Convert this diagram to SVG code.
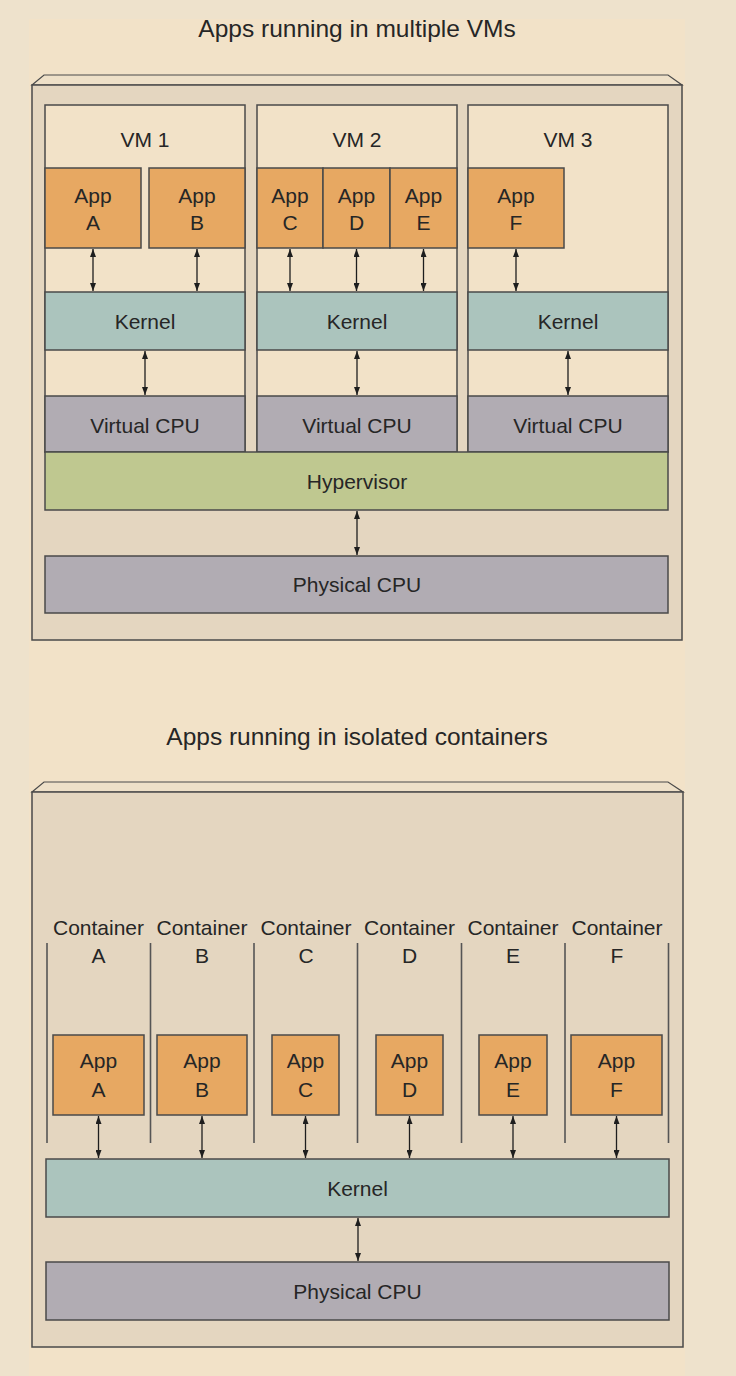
<svg xmlns="http://www.w3.org/2000/svg" width="736" height="1376" viewBox="0 0 736 1376">
<defs>
<marker id="ah" viewBox="0 0 8 6" refX="8" refY="3" markerWidth="8" markerHeight="6" markerUnits="userSpaceOnUse" orient="auto-start-reverse">
<path d="M0,0 L8,3 L0,6 z" fill="#1e1e1e"/>
</marker>
</defs>
<style>
text{font-family:"Liberation Sans",Arial,sans-serif;fill:#262626;text-anchor:middle}
.t{font-size:24.5px}
.l{font-size:21px}
.box{fill:#E4D6C0;stroke:#4a4a4a;stroke-width:1.5}
.bev{fill:#EEE0C8;stroke:#4a4a4a;stroke-width:1.2}
.vm{fill:#F2E2C8;stroke:#4a4a4a;stroke-width:1.5}
.app{fill:#E7A862;stroke:#4a4a4a;stroke-width:1.5}
.ker{fill:#ABC4BD;stroke:#4a4a4a;stroke-width:1.5}
.cpu{fill:#B1ACB3;stroke:#4a4a4a;stroke-width:1.5}
.hyp{fill:#BFC890;stroke:#4a4a4a;stroke-width:1.5}
.div{stroke:#555;stroke-width:1.6}
.ar{stroke:#1e1e1e;stroke-width:1.3;fill:none;marker-start:url(#ah);marker-end:url(#ah)}
</style>
<rect x="0" y="0" width="736" height="1376" fill="#EEE2CC"/>
<rect x="29" y="19" width="656" height="1357" fill="#F2E2C8"/>

<g id="vm-section">
<text class="t" x="357" y="37">Apps running in multiple VMs</text>
<g id="vm-host">
<polygon class="bev" points="32,85 44,75 668,75 682,85"/>
<rect class="box" x="32" y="85" width="650" height="555"/>
</g>
<g id="vm1">
<rect class="vm" x="45" y="105" width="200" height="347"/>
<text class="l" x="145" y="147">VM 1</text>
</g>
<g id="vm2">
<rect class="vm" x="257" y="105" width="200" height="347"/>
<text class="l" x="357" y="147">VM 2</text>
</g>
<g id="vm3">
<rect class="vm" x="468" y="105" width="200" height="347"/>
<text class="l" x="568" y="147">VM 3</text>
</g>
<g id="vm-app-a"><rect class="app" x="45" y="168" width="96" height="80"/><text class="l" x="93" y="203">App</text><text class="l" x="93" y="230">A</text></g>
<g id="vm-app-b"><rect class="app" x="149" y="168" width="96" height="80"/><text class="l" x="197" y="203">App</text><text class="l" x="197" y="230">B</text></g>
<g id="vm-app-c"><rect class="app" x="257" y="168" width="66" height="80"/><text class="l" x="290" y="203">App</text><text class="l" x="290" y="230">C</text></g>
<g id="vm-app-d"><rect class="app" x="323" y="168" width="67" height="80"/><text class="l" x="356.5" y="203">App</text><text class="l" x="356.5" y="230">D</text></g>
<g id="vm-app-e"><rect class="app" x="390" y="168" width="67" height="80"/><text class="l" x="423.5" y="203">App</text><text class="l" x="423.5" y="230">E</text></g>
<g id="vm-app-f"><rect class="app" x="468" y="168" width="96" height="80"/><text class="l" x="516" y="203">App</text><text class="l" x="516" y="230">F</text></g>
<g id="vm1-kernel"><rect class="ker" x="45" y="292" width="200" height="58"/><text class="l" x="145" y="328.5">Kernel</text></g>
<g id="vm2-kernel"><rect class="ker" x="257" y="292" width="200" height="58"/><text class="l" x="357" y="328.5">Kernel</text></g>
<g id="vm3-kernel"><rect class="ker" x="468" y="292" width="200" height="58"/><text class="l" x="568" y="328.5">Kernel</text></g>
<g id="vm1-vcpu"><rect class="cpu" x="45" y="396" width="200" height="56"/><text class="l" x="145" y="432.5">Virtual CPU</text></g>
<g id="vm2-vcpu"><rect class="cpu" x="257" y="396" width="200" height="56"/><text class="l" x="357" y="432.5">Virtual CPU</text></g>
<g id="vm3-vcpu"><rect class="cpu" x="468" y="396" width="200" height="56"/><text class="l" x="568" y="432.5">Virtual CPU</text></g>
<g id="hypervisor"><rect class="hyp" x="45" y="452" width="623" height="58"/><text class="l" x="357" y="488.5">Hypervisor</text></g>
<g id="vm-physical-cpu"><rect class="cpu" x="45" y="556" width="623" height="57"/><text class="l" x="357" y="592">Physical CPU</text></g>
</g>

<g id="container-section">
<text class="t" x="357" y="745">Apps running in isolated containers</text>
<g id="ct-host">
<polygon class="bev" points="32,792 44,782 668,782 683,792"/>
<rect class="box" x="32" y="792" width="651" height="555"/>
</g>
<g id="dividers">
<line class="div" x1="47" y1="943" x2="47" y2="1143"/>
<line class="div" x1="150.5" y1="943" x2="150.5" y2="1143"/>
<line class="div" x1="254" y1="943" x2="254" y2="1143"/>
<line class="div" x1="357.5" y1="943" x2="357.5" y2="1143"/>
<line class="div" x1="461.5" y1="943" x2="461.5" y2="1143"/>
<line class="div" x1="565" y1="943" x2="565" y2="1143"/>
<line class="div" x1="668.5" y1="943" x2="668.5" y2="1143"/>
</g>
<g id="container-a"><text class="l" x="98.5" y="935">Container</text><text class="l" x="98.5" y="963">A</text></g>
<g id="container-b"><text class="l" x="202" y="935">Container</text><text class="l" x="202" y="963">B</text></g>
<g id="container-c"><text class="l" x="306" y="935">Container</text><text class="l" x="306" y="963">C</text></g>
<g id="container-d"><text class="l" x="409.5" y="935">Container</text><text class="l" x="409.5" y="963">D</text></g>
<g id="container-e"><text class="l" x="513" y="935">Container</text><text class="l" x="513" y="963">E</text></g>
<g id="container-f"><text class="l" x="617" y="935">Container</text><text class="l" x="617" y="963">F</text></g>
<g id="ct-app-a"><rect class="app" x="53" y="1035" width="91" height="80"/><text class="l" x="98.5" y="1068">App</text><text class="l" x="98.5" y="1097">A</text></g>
<g id="ct-app-b"><rect class="app" x="157" y="1035" width="90" height="80"/><text class="l" x="202" y="1068">App</text><text class="l" x="202" y="1097">B</text></g>
<g id="ct-app-c"><rect class="app" x="272" y="1035" width="67" height="80"/><text class="l" x="305.5" y="1068">App</text><text class="l" x="305.5" y="1097">C</text></g>
<g id="ct-app-d"><rect class="app" x="376" y="1035" width="67" height="80"/><text class="l" x="409.5" y="1068">App</text><text class="l" x="409.5" y="1097">D</text></g>
<g id="ct-app-e"><rect class="app" x="479" y="1035" width="68" height="80"/><text class="l" x="513" y="1068">App</text><text class="l" x="513" y="1097">E</text></g>
<g id="ct-app-f"><rect class="app" x="571" y="1035" width="91" height="80"/><text class="l" x="616.5" y="1068">App</text><text class="l" x="616.5" y="1097">F</text></g>
<g id="ct-kernel"><rect class="ker" x="46" y="1159" width="623" height="58"/><text class="l" x="357.5" y="1195.5">Kernel</text></g>
<g id="ct-physical-cpu"><rect class="cpu" x="46" y="1262" width="623" height="58"/><text class="l" x="357.5" y="1298.5">Physical CPU</text></g>
</g>

<g id="connectors">
<line class="ar" x1="93" y1="249" x2="93" y2="291"/>
<line class="ar" x1="197" y1="249" x2="197" y2="291"/>
<line class="ar" x1="290" y1="249" x2="290" y2="291"/>
<line class="ar" x1="356.5" y1="249" x2="356.5" y2="291"/>
<line class="ar" x1="423.5" y1="249" x2="423.5" y2="291"/>
<line class="ar" x1="516" y1="249" x2="516" y2="291"/>
<line class="ar" x1="145" y1="351" x2="145" y2="395"/>
<line class="ar" x1="357" y1="351" x2="357" y2="395"/>
<line class="ar" x1="568" y1="351" x2="568" y2="395"/>
<line class="ar" x1="357" y1="511" x2="357" y2="555"/>
<line class="ar" x1="98.5" y1="1116" x2="98.5" y2="1158"/>
<line class="ar" x1="202" y1="1116" x2="202" y2="1158"/>
<line class="ar" x1="305.5" y1="1116" x2="305.5" y2="1158"/>
<line class="ar" x1="409.5" y1="1116" x2="409.5" y2="1158"/>
<line class="ar" x1="513" y1="1116" x2="513" y2="1158"/>
<line class="ar" x1="616.5" y1="1116" x2="616.5" y2="1158"/>
<line class="ar" x1="358" y1="1218" x2="358" y2="1261"/>
</g>
</svg>
